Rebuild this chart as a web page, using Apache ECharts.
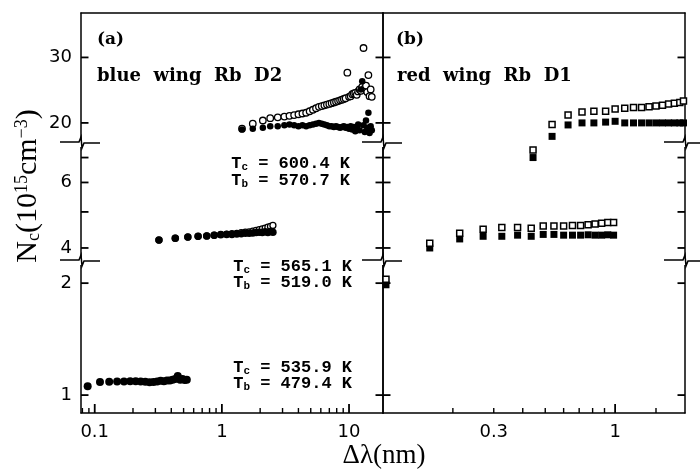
<!DOCTYPE html>
<html>
<head>
<meta charset="utf-8">
<script src="https://cdn.jsdelivr.net/npm/echarts@6/dist/echarts.min.js"></script>
<style>
  html, body { margin: 0; padding: 0; background: #fff; }
  #chart { width: 700px; height: 469px; }
</style>
</head>
<body>
<div id="chart"></div>
<script>
// (a) blue wing Rb D2, three temperatures
const aLowX = [0.088, 0.11, 0.13, 0.15, 0.17, 0.19, 0.21, 0.23, 0.25, 0.27, 0.29, 0.31, 0.33, 0.35, 0.37, 0.39, 0.41, 0.43, 0.45, 0.47, 0.49, 0.51, 0.53]
const aLowFilled = [1.057, 1.084, 1.086, 1.088, 1.088, 1.089, 1.09, 1.088, 1.086, 1.082, 1.084, 1.088, 1.092, 1.09, 1.095, 1.094, 1.1, 1.105, 1.125, 1.1, 1.105, 1.098, 1.1]

const aMidX = [0.32, 0.43, 0.54, 0.65, 0.76, 0.87, 0.98, 1.09, 1.2, 1.31, 1.42, 1.53, 1.64, 1.75, 1.86, 1.97, 2.08, 2.19, 2.3, 2.41, 2.52]
const aMidFilled = [4.2, 4.25, 4.28, 4.3, 4.31, 4.33, 4.34, 4.35, 4.35, 4.36, 4.37, 4.38, 4.38, 4.39, 4.4, 4.41, 4.4, 4.42, 4.4, 4.43, 4.41]
const aMidOpen = [4.2, 4.25, 4.28, 4.3, 4.31, 4.33, 4.35, 4.36, 4.37, 4.38, 4.4, 4.41, 4.42, 4.44, 4.46, 4.48, 4.5, 4.52, 4.55, 4.57, 4.6]

const aHighX = [1.44, 1.75, 2.1, 2.4, 2.75, 3.1, 3.4, 3.7, 4.0, 4.3, 4.6, 4.9, 5.2, 5.5, 5.8, 6.1, 6.4, 6.7, 7.0, 7.3, 7.6, 7.9, 8.2, 8.5, 8.8, 9.1, 9.4, 9.7, 10.0, 10.3, 10.6, 10.9, 11.2, 11.5, 11.8, 12.1, 12.4, 12.7, 13.0, 13.3, 13.6, 13.9, 14.2, 14.5, 14.8, 15.1]
const aHighOpen = [19.3, 19.9, 20.3, 20.6, 20.7, 20.8, 20.9, 21.0, 21.1, 21.2, 21.3, 21.5, 21.7, 21.9, 22.1, 22.2, 22.3, 22.4, 22.5, 22.6, 22.7, 22.8, 22.9, 23.0, 23.1, 23.2, 23.3, 27.3, 23.5, 23.6, 23.9, 24.0, 24.1, 23.8, 24.3, 24.6, 24.4, 25.0, 31.8, 24.8, 25.2, 24.2, 26.9, 23.6, 24.6, 23.5]
const aHighFilled = [19.2, 19.3, 19.4, 19.6, 19.6, 19.7, 19.8, 19.7, 19.6, 19.7, 19.6, 19.7, 19.8, 19.9, 20.0, 19.9, 19.8, 19.7, 19.6, 19.6, 19.5, 19.6, 19.5, 19.4, 19.5, 19.6, 19.4, 19.5, 19.3, 19.6, 19.2, 19.5, 19.0, 19.4, 19.8, 19.1, 24.6, 25.9, 19.7, 18.9, 20.3, 19.4, 21.3, 18.8, 19.6, 19.1]

// (b) red wing Rb D1, two temperatures
const bLowX = [0.103, 0.159, 0.214, 0.27, 0.325, 0.38, 0.435, 0.49, 0.545, 0.6, 0.655, 0.71, 0.765, 0.82, 0.875, 0.93, 0.985]
const bLowOpen = [2.05, 4.12, 4.38, 4.49, 4.54, 4.54, 4.52, 4.58, 4.58, 4.58, 4.6, 4.6, 4.62, 4.64, 4.66, 4.68, 4.68]
const bLowFilled = [1.98, 4.0, 4.23, 4.3, 4.3, 4.33, 4.3, 4.35, 4.35, 4.33, 4.33, 4.33, 4.34, 4.33, 4.33, 4.34, 4.33]

const bHighX = [0.443, 0.535, 0.627, 0.72, 0.81, 0.91, 1.0, 1.1, 1.2, 1.3, 1.4, 1.5, 1.6, 1.7, 1.8, 1.9, 1.97]
const bHighOpen = [7.33, 19.8, 21.0, 21.4, 21.5, 21.5, 21.8, 21.9, 22.0, 22.0, 22.1, 22.2, 22.3, 22.5, 22.6, 22.7, 22.9]
const bHighFilled = [7.0, 18.4, 19.75, 20.0, 20.0, 20.1, 20.2, 20.0, 20.0, 20.0, 20.0, 20.0, 20.0, 20.0, 20.0, 20.0, 20.0]

// tick values
const aXMajor = [0.1, 1, 10]
const aXMinor = [0.08, 0.09, 0.2, 0.3, 0.4, 0.5, 0.6, 0.7, 0.8, 0.9, 2, 3, 4, 5, 6, 7, 8, 9]
const aXLabels = [0.1, 1, 10]
const bXMajor = [1]
const bXMinor = [0.2, 0.3, 0.4, 0.5, 0.6, 0.7, 0.8, 0.9, 1.5]
const bXLabels = [0.3, 1]
const yTopTicks = [20, 30]
const yTopLabels = [20, 30]
const yMidTicks = [4, 5, 6, 7]
const yMidLabels = [4, 6]
const yBotTicks = [1, 2]
const yBotLabels = [1, 2]

const BLACK = '#000'
const fmt = v => String(+(+v).toPrecision(4))

// broken y axis: three log segments stacked
const segs = [
  { top: 13, height: 130, min: 17.66, max: 39.5, ticks: yTopTicks, labels: yTopLabels },
  { top: 143, height: 118, min: 3.69, max: 7.66, ticks: yMidTicks, labels: yMidLabels },
  { top: 261, height: 152, min: 0.895, max: 2.294, ticks: yBotTicks, labels: yBotLabels }
]
const panels = [
  { left: 81, width: 302, xMin: 0.078, xMax: 18.5, major: aXMajor, minor: aXMinor, labels: aXLabels, yLabels: true },
  { left: 383, width: 302, xMin: 0.1, xMax: 2, major: bXMajor, minor: bXMinor, labels: bXLabels, yLabels: false }
]

const grids = []
const xAxes = []
const yAxes = []
const cells = [] // [panel][seg] -> axis indices

panels.forEach((p, pi) => {
  cells[pi] = []
  segs.forEach((s, si) => {
    const g = grids.length
    grids.push({ left: p.left, width: p.width, top: s.top, height: s.height, outerBoundsMode: 'none', containLabel: false })
    const isBottom = si === 2
    const xi = xAxes.length
    xAxes.push({
      type: 'log', gridIndex: g, min: p.xMin, max: p.xMax, position: 'bottom',
      axisLine: { show: isBottom, lineStyle: { color: BLACK, width: 1.5 } },
      axisTick: { show: false },
      axisLabel: {
        show: isBottom, customValues: p.labels, formatter: fmt, margin: 10,
        color: BLACK, fontFamily: 'DejaVu Sans', fontSize: 18
      },
      splitLine: { show: false }
    })
    if (si === 0) {
      xAxes.push({
        type: 'log', gridIndex: g, min: p.xMin, max: p.xMax, position: 'top',
        axisLine: { show: true, lineStyle: { color: BLACK, width: 1.5 } },
        axisTick: { show: false }, axisLabel: { show: false }, splitLine: { show: false }
      })
    }
    const yi = yAxes.length
    ;['left', 'right'].forEach(pos => {
      yAxes.push({
        type: 'log', gridIndex: g, min: s.min, max: s.max, position: pos,
        axisLine: { show: true, lineStyle: { color: BLACK, width: 1.5 } },
        axisTick: { show: false },
        axisLabel: {
          show: pos === 'left' && p.yLabels, customValues: s.labels, formatter: fmt, margin: 9,
          color: BLACK, fontFamily: 'DejaVu Sans', fontSize: 18
        },
        splitLine: { show: false }
      })
    })
    cells[pi][si] = { x: xi, y: yi }
  })
})

const zip = (xs, ys) => xs.map((x, i) => [x, ys[i]])
const openCircle = { symbol: 'circle', itemStyle: { color: '#fff', borderColor: BLACK, borderWidth: 1.3, opacity: 1 } }
const fullCircle = { symbol: 'circle', itemStyle: { color: BLACK, opacity: 1 } }
const openSquare = { symbol: 'rect', itemStyle: { color: '#fff', borderColor: BLACK, borderWidth: 1.5, opacity: 1 } }
const fullSquare = { symbol: 'rect', itemStyle: { color: BLACK, opacity: 1 } }

// open markers first so the filled ones sit on top
const groups = [
  { panel: 0, data: zip(aMidX, aMidOpen), size: 6, style: openCircle },
  { panel: 0, data: zip(aHighX, aHighOpen), size: 6.5, style: openCircle },
  { panel: 0, data: zip(aLowX, aLowFilled), size: 8, style: fullCircle },
  { panel: 0, data: zip(aMidX, aMidFilled), size: 7.5, style: fullCircle },
  { panel: 0, data: zip(aHighX, aHighFilled), size: 6.5, style: fullCircle },
  { panel: 1, data: zip(bLowX, bLowFilled), size: 7, style: fullSquare },
  { panel: 1, data: zip(bHighX, bHighFilled), size: 7, style: fullSquare },
  { panel: 1, data: zip(bLowX, bLowOpen), size: 6, style: openSquare },
  { panel: 1, data: zip(bHighX, bHighOpen), size: 6, style: openSquare }
]

const series = []
groups.forEach(gr => {
  segs.forEach((s, si) => {
    const c = cells[gr.panel][si]
    series.push({
      type: 'scatter', xAxisIndex: c.x, yAxisIndex: c.y, clip: true, silent: true,
      symbol: gr.style.symbol, symbolSize: gr.size, itemStyle: gr.style.itemStyle,
      data: gr.data
    })
  })
})

// inward axis ticks drawn as thin rect symbols. Anchors sit a little inside
// the axis extent (factor IN), offsets pull them back onto the axis line.
const IN = 1.02
const tickSeries = (c, data, size, offset) => ({
  type: 'scatter', xAxisIndex: c.x, yAxisIndex: c.y, clip: false,
  symbol: 'rect', symbolSize: size, symbolOffset: offset,
  itemStyle: { color: BLACK, opacity: 1 },
  data: data
})
panels.forEach((p, pi) => {
  const bc = cells[pi][2]
  const bs = segs[2]
  const shiftY = Math.log10(IN) * bs.height / Math.log10(bs.max / bs.min)
  const shiftX = Math.log10(IN) * p.width / Math.log10(p.xMax / p.xMin)
  const yBase = bs.min * IN
  series.push(tickSeries(bc, p.major.map(v => [v, yBase]), [1.8, 9], [0, shiftY - 4.5]))
  series.push(tickSeries(bc, p.minor.map(v => [v, yBase]), [1.4, 5], [0, shiftY - 2.5]))
  segs.forEach((s, si) => {
    const c = cells[pi][si]
    series.push(tickSeries(c, s.ticks.map(v => [p.xMin * IN, v]), [7.5, 1.8], [3.75 - shiftX, 0]))
    series.push(tickSeries(c, s.ticks.map(v => [p.xMax / IN, v]), [7.5, 1.8], [shiftX - 3.75, 0]))
  })
})

// text
const mono = 'Liberation Mono'
const tLabel = (sub, rest, x, y) => ({
  type: 'text', x: x, y: y, z: 50,
  style: {
    text: '{m|T}{s|' + sub + '}{m| = ' + rest + '}',
    align: 'right', textAlign: 'right', verticalAlign: 'middle', textVerticalAlign: 'middle',
    fill: BLACK,
    rich: {
      m: { fontFamily: mono, fontWeight: 'bold', fontSize: 17, lineHeight: 17, fill: BLACK },
      s: { fontFamily: mono, fontWeight: 'bold', fontSize: 11, lineHeight: 8, verticalAlign: 'bottom', fill: BLACK }
    }
  }
})
const plain = (text, x, y, font, align) => ({
  type: 'text', x: x, y: y, z: 50,
  style: { text: text, font: font, fill: BLACK, align: align || 'left', textAlign: align || 'left', verticalAlign: 'middle', textVerticalAlign: 'middle' }
})

const graphic = [
  plain('(a)', 97, 40, 'bold 17px "DejaVu Serif"'),
  plain('(b)', 396, 40, 'bold 17px "DejaVu Serif"'),
  plain('blue  wing  Rb  D2', 97, 76, 'bold 18px "DejaVu Serif"'),
  plain('red  wing  Rb  D1', 397, 76, 'bold 18px "DejaVu Serif"'),
  tLabel('c', '600.4 K', 350, 164),
  tLabel('b', '570.7 K', 350, 181),
  tLabel('c', '565.1 K', 352, 267),
  tLabel('b', '519.0 K', 352, 283),
  tLabel('c', '535.9 K', 352, 368),
  tLabel('b', '479.4 K', 352, 384),
  plain('Δλ(nm)', 384, 456, '27px "Liberation Serif"', 'center'),
  {
    type: 'text', x: 28, y: 186, rotation: Math.PI / 2, z: 50,
    style: {
      text: '{m|N}{sb|c}{m|(10}{sp|15}{m|cm}{sp|−3}{m|)}',
      align: 'center', textAlign: 'center', verticalAlign: 'middle', textVerticalAlign: 'middle',
      fill: BLACK,
      rich: {
        m: { fontFamily: 'Liberation Serif', fontSize: 30, lineHeight: 30, fill: BLACK },
        sb: { fontFamily: 'Liberation Serif', fontSize: 18, lineHeight: 12, verticalAlign: 'bottom', fill: BLACK },
        sp: { fontFamily: 'Liberation Serif', fontSize: 18, lineHeight: 12, verticalAlign: 'top', fill: BLACK }
      }
    }
  }
]

// axis break marks on the three vertical axes
const breakYs = [segs[1].top, segs[2].top]
const breakXs = [81, 383, 685]
breakXs.forEach(bx => {
  breakYs.forEach(by => {
    graphic.push({
      type: 'rect', z: 60,
      shape: { x: bx - 3, y: by - 4, width: 6, height: 8 },
      style: { fill: '#fff' }
    })
    graphic.push({
      type: 'polyline', z: 61,
      shape: { points: [[bx - 21, by - 1], [bx - 2, by - 1], [bx, by - 6], [bx + 1, by + 5], [bx + 3, by], [bx + 19, by]] },
      style: { stroke: BLACK, lineWidth: 1.5, fill: null }
    })
  })
})

const chart = echarts.init(document.getElementById('chart'))
chart.setOption({
  animation: false,
  backgroundColor: '#fff',
  grid: grids,
  xAxis: xAxes,
  yAxis: yAxes,
  series: series,
  graphic: graphic
})
</script>
</body>
</html>
